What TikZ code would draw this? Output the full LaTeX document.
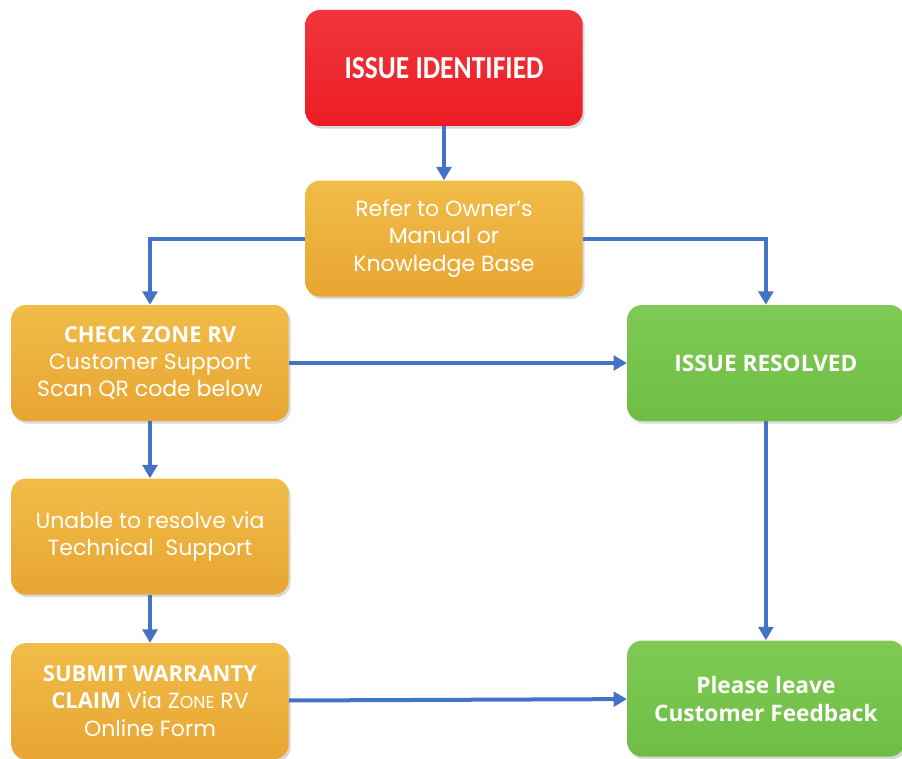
\documentclass[tikz,border=0pt]{standalone}
\usepackage{fontspec}
\setmainfont{Poppins}
\newfontfamily\headfont{Open Sans}
\newfontfamily\condfont[FakeStretch=0.86]{Carlito}
\usetikzlibrary{arrows.meta,positioning,shadows}
\definecolor{issuered}{HTML}{ED1C24}
\definecolor{issueredtop}{HTML}{F0363C}
\definecolor{stepgold}{HTML}{E8A532}
\definecolor{stepgoldtop}{HTML}{F1BC48}
\definecolor{okgreen}{HTML}{6FBE44}
\definecolor{okgreentop}{HTML}{7FCA55}
\definecolor{flowblue}{HTML}{4472C4}

\begin{document}
\begin{tikzpicture}[
  node distance=40pt and 250pt,
  box/.style={rounded corners=11pt,align=center,text=white,minimum width=208pt,minimum height=87pt,inner sep=4pt,
    font=\fontsize{16.5}{20.5}\selectfont,drop shadow={opacity=0.3,shadow xshift=1.5pt,shadow yshift=-2pt}},
  redbox/.style={box,top color=issueredtop,bottom color=issuered},
  goldbox/.style={box,top color=stepgoldtop,bottom color=stepgold},
  greenbox/.style={box,top color=okgreentop,bottom color=okgreen},
  hd/.style={font=\headfont\bfseries\fontsize{17}{21}\selectfont},
  arr/.style={-{Triangle[width=11pt,length=10pt]},line width=3pt,draw=flowblue}
]
\useasboundingbox (0,0) rectangle (676.5pt,-569.25pt);
% top of the flow
\node[redbox,font=\condfont\bfseries\fontsize{24}{26}\selectfont] (issue) at (333pt,-51pt) {ISSUE IDENTIFIED};
\node[goldbox,below=40.5pt of issue] (refer) {Refer to Owner’s\\Manual or\\Knowledge Base};
% left column
\node[goldbox] (check) at (112.5pt,-272.25pt) {{\headfont\bfseries\fontsize{16.5}{20.5}\selectfont CHECK ZONE RV}\\Customer Support\\Scan QR code below};
\node[goldbox,below=42.75pt of check] (unable) {Unable to resolve via\\Technical\ \ Support};
\node[goldbox,below=36pt of unable] (submit) {{\headfont\bfseries\fontsize{16.5}{20.5}\selectfont SUBMIT WARRANTY}\\{\headfont\bfseries\fontsize{16.5}{20.5}\selectfont CLAIM} Via Z{\fontsize{13}{20.5}\selectfont ONE} RV\\Online Form};
% right column
\node[greenbox,hd,right=253.5pt of check] (solved) {ISSUE RESOLVED};
\node[greenbox,hd,below=164.25pt of solved] (feedback) {Please leave\\Customer Feedback};
\draw[arr] (issue) -- (refer);
\draw[arr] (refer.west) -| (check.north);
\draw[arr] (refer.east) -| (solved.north);
\draw[arr] (check) -- (solved);
\draw[arr] (check) -- (unable);
\draw[arr] (unable) -- (submit);
\draw[arr] (solved) -- (feedback);
\draw[arr] (submit) -- (feedback);
\end{tikzpicture}
\end{document}
